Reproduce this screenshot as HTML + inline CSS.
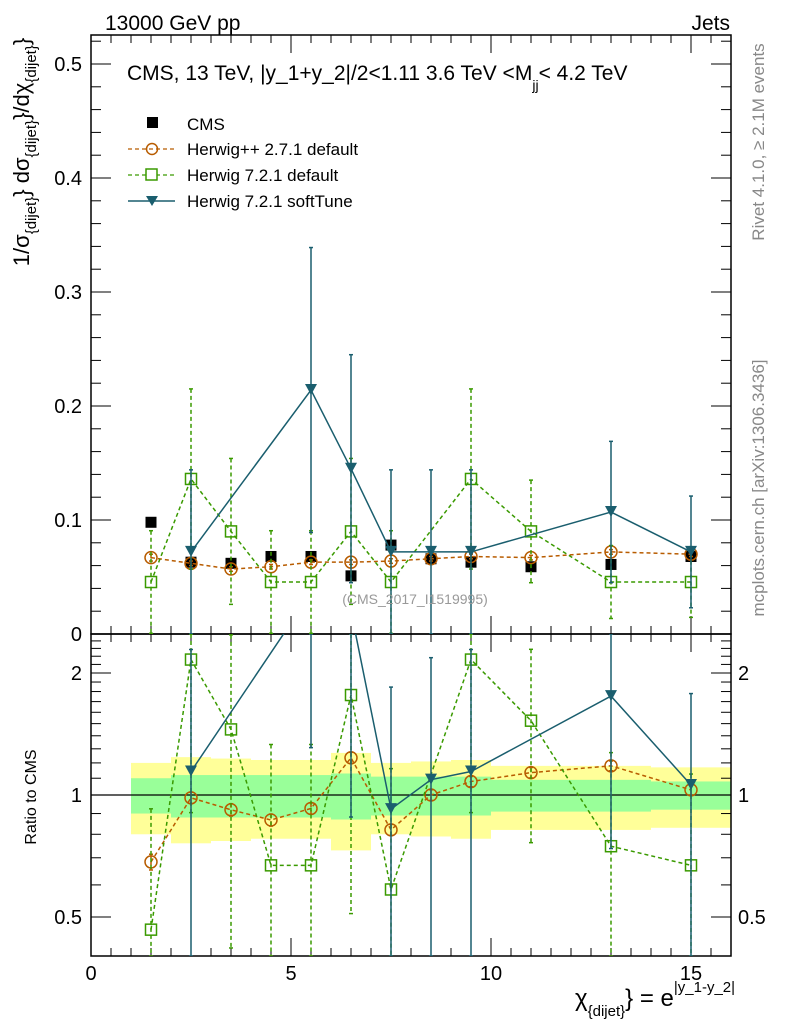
<!DOCTYPE html>
<html><head><meta charset="utf-8"><style>
html,body{margin:0;padding:0;background:#fff;}
svg{display:block;font-family:"Liberation Sans",sans-serif;}
</style></head><body>
<svg id="chart" width="786" height="1024" viewBox="0 0 786 1024" xmlns="http://www.w3.org/2000/svg">
<g id="bands"></g>
<g id="grid"></g>
<g id="marks"></g>
<text x="105" y="30" font-size="21">13000 GeV pp</text>
<text x="730" y="30" font-size="21" text-anchor="end">Jets</text>
<text x="127" y="80" font-size="21">CMS, 13 TeV, |y_1+y_2|/2&lt;1.11 3.6 TeV &lt;M<tspan font-size="14" dy="10">jj</tspan><tspan dy="-10">&lt; 4.2 TeV</tspan></text>
<text x="415" y="604" font-size="14" fill="#999" text-anchor="middle">(CMS_2017_I1519995)</text>
<text transform="translate(764,142) rotate(-90)" font-size="17" fill="#888" text-anchor="middle">Rivet 4.1.0, ≥ 2.1M events</text>
<text transform="translate(764,488) rotate(-90)" font-size="17" fill="#888" text-anchor="middle">mcplots.cern.ch [arXiv:1306.3436]</text>
<text transform="translate(29,152) rotate(-90)" font-size="22" text-anchor="middle">1/σ<tspan font-size="15" dy="7">{dijet}</tspan><tspan dy="-7">} dσ</tspan><tspan font-size="15" dy="7">{dijet}</tspan><tspan dy="-7">}/dχ</tspan><tspan font-size="15" dy="7">{dijet}</tspan><tspan dy="-7">}</tspan></text>
<text transform="translate(36,797) rotate(-90)" font-size="16" text-anchor="middle">Ratio to CMS</text>
<text x="575" y="1006" font-size="24">χ<tspan font-size="15" dy="10">{dijet}</tspan><tspan dy="-10">} = e</tspan><tspan font-size="15" dy="-14">|y_1-y_2|</tspan></text>
<g id="legend">
<rect x="147" y="117" width="11" height="11" fill="#000"/>
<text x="187" y="130" font-size="17">CMS</text>
<line x1="128" y1="149" x2="175" y2="149" stroke="#b85c00" stroke-width="1.2" stroke-dasharray="4,3"/>
<circle cx="152" cy="149" r="5.5" fill="none" stroke="#b85c00" stroke-width="1.5"/>
<text x="187" y="155" font-size="17">Herwig++ 2.7.1 default</text>
<line x1="128" y1="175" x2="175" y2="175" stroke="#3a9a00" stroke-width="1.2" stroke-dasharray="4,3"/>
<rect x="146" y="169" width="11" height="11" fill="#fff" stroke="#3a9a00" stroke-width="1.5"/>
<text x="187" y="181" font-size="17">Herwig 7.2.1 default</text>
<line x1="128" y1="201" x2="175" y2="201" stroke="#1a5e6e" stroke-width="1.5"/>
<polygon points="146,196 158,196 152,206" fill="#1a5e6e"/>
<text x="187" y="207" font-size="17">Herwig 7.2.1 softTune</text>
</g>
</svg>
<script>
const binLo = [1,2,3,4,5,6,7,8,9,10,12,14];
const binHi = [2,3,4,5,6,7,8,9,10,12,14,16];
const binX = [1.5,2.5,3.5,4.5,5.5,6.5,7.5,8.5,9.5,11,13,15];
const cmsVal = [0.098,0.063,0.062,0.068,0.068,0.051,0.078,0.066,0.063,0.059,0.061,0.068];
const cmsStatRel = [0.10,0.12,0.12,0.12,0.12,0.13,0.11,0.11,0.11,0.09,0.09,0.08];
const cmsTotRel = [0.20,0.24,0.23,0.22,0.22,0.27,0.20,0.21,0.22,0.18,0.18,0.17];
const hppVal = [0.067,0.062,0.057,0.059,0.063,0.063,0.064,0.066,0.068,0.067,0.072,0.070];
const hppErr = [0.003,0.002,0.002,0.002,0.002,0.002,0.002,0.002,0.002,0.002,0.002,0.002];
const h7Val = [0.0456,0.136,0.090,0.0456,0.0456,0.090,0.0456,null,0.136,0.090,0.0456,0.0456];
const h7Err = [0.045,0.079,0.064,0.045,0.045,0.064,0.045,null,0.079,0.045,0.032,0.031];
const stVal = [null,0.072,null,null,0.214,0.145,0.072,0.072,0.072,null,0.107,0.072];
const stErr = [null,0.072,null,null,0.125,0.100,0.072,0.072,0.072,null,0.062,0.049];
const xTicks = [0,5,10,15];
const yTicks = [0,0.1,0.2,0.3,0.4,0.5];
const rTicks = [0.5,1,2];

const NS="http://www.w3.org/2000/svg";
const L=91,R=731,T=35,M=634,B=956;
const sx=v=>L+v*40;
const sy=v=>M-v*1140;
const sr=v=>795-Math.log2(v)*122;
const svg=document.getElementById('chart');
const grid=document.getElementById('grid'),marks=document.getElementById('marks'),bands=document.getElementById('bands');
function el(tag,attrs,parent){const e=document.createElementNS(NS,tag);for(const k in attrs)e.setAttribute(k,attrs[k]);(parent||marks).appendChild(e);return e;}
function clipY(y,top,bot){return Math.max(top,Math.min(bot,y));}

for(let i=0;i<binLo.length;i++){
  const y1=sr(1+cmsTotRel[i]),y2=sr(1-cmsTotRel[i]);
  const b=el('rect',{x:sx(binLo[i]),y:y1,width:sx(binHi[i])-sx(binLo[i]),height:y2-y1,fill:'#ffff99'},bands);
  
  
}
for(let i=0;i<binLo.length;i++){
  const y1=sr(1+cmsStatRel[i]),y2=sr(1-cmsStatRel[i]);
  const b=el('rect',{x:sx(binLo[i]),y:y1,width:sx(binHi[i])-sx(binLo[i]),height:y2-y1,fill:'#99ff99'},bands);
  
  
}
el('line',{x1:L,y1:sr(1),x2:R,y2:sr(1),stroke:'#000','stroke-width':1.2},bands);

const f1=el('rect',{x:L,y:T,width:R-L,height:M-T,fill:'none',stroke:'#000','stroke-width':1.5},grid);

const f2=el('rect',{x:L,y:M,width:R-L,height:B-M,fill:'none',stroke:'#000','stroke-width':1.5},grid);


for(let v=0;v<=16.001;v+=0.5){
  const major=Math.abs(v-Math.round(v/5)*5)<1e-6;
  const len=major?18:8;
  const x=sx(v);
  for(const [a,b] of [[T,T+len],[M-len,M],[M,M+len],[B-len,B]]) el('line',{x1:x,y1:a,x2:x,y2:b,stroke:'#000','stroke-width':1},grid);
}
xTicks.forEach(v=>{const t=el('text',{x:sx(v),y:980,'font-size':20,'text-anchor':'middle'},grid);t.textContent=v;
});
for(let k=0;k<=26;k++){const v=k*0.02;const y=sy(v);if(y<T)continue;const major=k%5===0;const len=major?20:10;
 el('line',{x1:L,y1:y,x2:L+len,y2:y,stroke:'#000'},grid);el('line',{x1:R-len,y1:y,x2:R,y2:y,stroke:'#000'},grid);}
yTicks.forEach(v=>{const t=el('text',{x:82,y:sy(v)+7,'font-size':20,'text-anchor':'end'},grid);t.textContent=v===0?'0':v.toFixed(1);
});
const rMinor=[0.4,0.5,0.6,0.7,0.8,0.9,1,1.1,1.2,1.3,1.4,1.5,1.6,1.7,1.8,1.9,2,2.1,2.2,2.3,2.4,2.5];
rMinor.forEach(v=>{const y=sr(v);if(y<M||y>B)return;const major=rTicks.includes(v);const len=major?20:10;
 el('line',{x1:L,y1:y,x2:L+len,y2:y,stroke:'#000'},grid);el('line',{x1:R-len,y1:y,x2:R,y2:y,stroke:'#000'},grid);});
rTicks.forEach(v=>{for(const [x,a] of [[82,'end'],[738,'start']]){const t=el('text',{x:x,y:sr(v)+7,'font-size':20,'text-anchor':a},grid);t.textContent=v;
}});

function series(vals,errs,color,dash,marker,name,ratio){
  const top=ratio?M:T,bot=ratio?B:M;
  const Y=v=>ratio?sr(v):sy(v);
  const g=el('g',{});
  
  
  const cp=el('clipPath',{id:'cp'+name+(ratio?'r':'m')},g);
  el('rect',{x:L,y:top,width:R-L,height:bot-top},cp);
  const inner=el('g',{'clip-path':'url(#cp'+name+(ratio?'r':'m')+')'},g);
  const pts=[];
  for(let i=0;i<binX.length;i++){
    if(vals[i]==null)continue;
    let v=vals[i],e=errs?errs[i]:0;
    if(ratio){e=e/cmsVal[i];v=v/cmsVal[i];}
    const x=sx(binX[i]);
    const lo=Math.max(v-e,1e-4);
    if(errs){
      const y1=clipY(Y(v+e),top,bot),y2=clipY(Y(lo),top,bot);
      el('line',{x1:x,y1:y1,x2:x,y2:y2,stroke:color,'stroke-width':1.5,'stroke-dasharray':dash||'none'},inner);
      el('line',{x1:x-2,y1:y1,x2:x+2,y2:y1,stroke:color,'stroke-width':1.5},inner);
      el('line',{x1:x-2,y1:y2,x2:x+2,y2:y2,stroke:color,'stroke-width':1.5},inner);
    }
    pts.push([x,Y(v)]);
  }
  if(marker!=='cms') el('polyline',{points:pts.map(p=>p.join(',')).join(' '),fill:'none',stroke:color,'stroke-width':1.5,'stroke-dasharray':dash||'none'},inner);
  pts.forEach(p=>{let m;
    if(marker==='cms')m=el('rect',{x:p[0]-5.5,y:p[1]-5.5,width:11,height:11,fill:'#000'},inner);
    else if(marker==='circle')m=el('circle',{cx:p[0],cy:p[1],r:6,fill:'none',stroke:color,'stroke-width':1.5},inner);
    else if(marker==='square')m=el('rect',{x:p[0]-5.5,y:p[1]-5.5,width:11,height:11,fill:'none',stroke:color,'stroke-width':1.5},inner);
    else m=el('polygon',{points:`${p[0]-6},${p[1]-6} ${p[0]+6},${p[1]-6} ${p[0]},${p[1]+5}`,fill:color},inner);
    
    
  });
}
series(cmsVal,null,'#000',null,'cms','cms',false);
series(hppVal,hppErr,'#b85c00','4,3','circle','herwigpp',false);
series(h7Val,h7Err,'#3a9a00','4,3','square','herwig7-default',false);
series(stVal,stErr,'#1a5e6e',null,'tri','herwig7-softtune',false);
series(hppVal,hppErr,'#b85c00','4,3','circle','herwigpp',true);
series(h7Val,h7Err,'#3a9a00','4,3','square','herwig7-default',true);
series(stVal,stErr,'#1a5e6e',null,'tri','herwig7-softtune',true);
</script>
</body></html>
